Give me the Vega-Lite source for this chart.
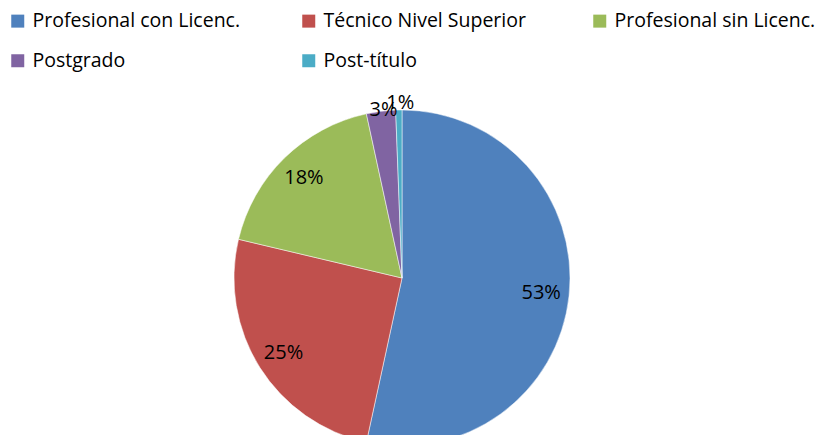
{
  "$schema": "https://vega.github.io/schema/vega-lite/v6.json",
  "autosize": "none",
  "width": 336,
  "height": 156,
  "padding": {"left": 234, "top": 200, "right": 248, "bottom": 79},
  "background": "white",
  "config": {
    "view": {"stroke": null},
    "font": "Open Sans"
  },
  "data": {"values": [
    {"categoria": "Profesional con Licenc.", "porcentaje": 53.4, "etiqueta": "53%", "orden": 1},
    {"categoria": "Técnico Nivel Superior", "porcentaje": 25.3, "etiqueta": "25%", "orden": 2},
    {"categoria": "Profesional sin Licenc.", "porcentaje": 17.9, "etiqueta": "18%", "orden": 3},
    {"categoria": "Postgrado", "porcentaje": 2.8, "etiqueta": "3%", "orden": 4},
    {"categoria": "Post-título", "porcentaje": 0.6, "etiqueta": "1%", "orden": 5}
  ]},
  "encoding": {
    "theta": {"field": "porcentaje", "type": "quantitative", "stack": true},
    "order": {"field": "orden", "type": "quantitative"}
  },
  "layer": [
    {
      "mark": {"type": "arc", "radius": 168, "stroke": "white", "strokeWidth": 0.5},
      "encoding": {
        "color": {
          "field": "categoria", "type": "nominal",
          "scale": {
            "domain": ["Profesional con Licenc.", "Técnico Nivel Superior", "Profesional sin Licenc.", "Postgrado", "Post-título"],
            "range": ["#4F81BD", "#C0504D", "#9BBB59", "#8064A2", "#4BACC6"]
          },
          "sort": null,
          "legend": {
            "title": null,
            "orient": "none",
            "legendX": -226,
            "legendY": -189,
            "direction": "horizontal",
            "columns": 3,
            "gridAlign": "all",
            "columnPadding": 58,
            "rowPadding": 19,
            "symbolType": "square",
            "symbolSize": 169,
            "symbolStrokeWidth": 0,
            "labelFontSize": 19.5,
            "labelFont": "Open Sans",
            "labelColor": "#000000",
            "labelOffset": 5,
            "labelLimit": 400
          }
        }
      }
    },
    {
      "transform": [{"filter": "datum.porcentaje >= 10"}],
      "mark": {"type": "text", "radius": 140, "fontSize": 20, "font": "Open Sans", "color": "#000000"},
      "encoding": {"text": {"field": "etiqueta", "type": "nominal"}}
    },
    {
      "transform": [{"filter": "datum.orden == 4"}],
      "mark": {"type": "text", "radius": 177, "align": "right", "angle": 0.01, "dx": -20, "dy": 8, "fontSize": 20, "font": "Open Sans", "color": "#000000"},
      "encoding": {"text": {"field": "etiqueta", "type": "nominal"}}
    },
    {
      "transform": [{"filter": "datum.orden == 5"}],
      "mark": {"type": "text", "radius": 177, "angle": 0.01, "dx": -5, "dy": 2, "fontSize": 20, "font": "Open Sans", "color": "#000000"},
      "encoding": {"text": {"field": "etiqueta", "type": "nominal"}}
    }
  ]
}
